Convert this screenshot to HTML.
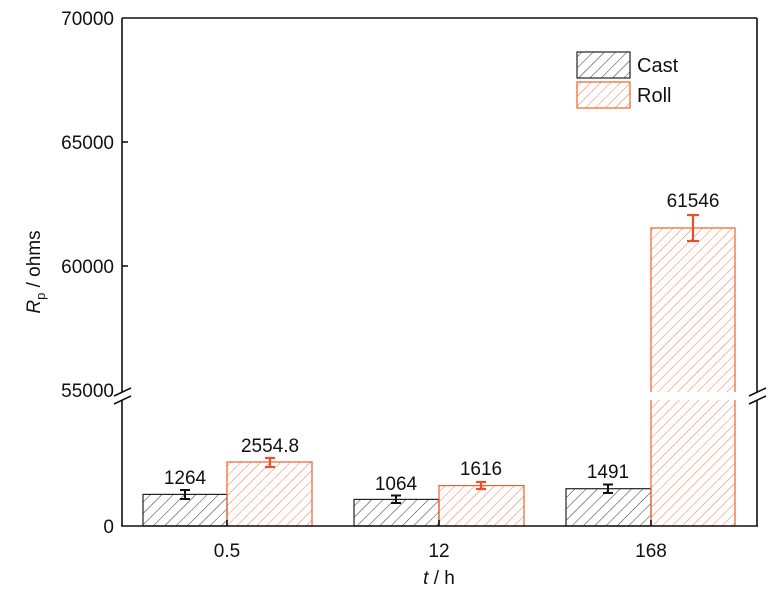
<!DOCTYPE html>
<html><head><meta charset="utf-8"><style>
html,body{margin:0;padding:0;background:#fff;}
svg{display:block;font-family:"Liberation Sans",Arial,sans-serif;}
</style></head><body>
<svg width="768" height="593" viewBox="0 0 768 593" xmlns="http://www.w3.org/2000/svg">
<defs>
<pattern id="hb" patternUnits="userSpaceOnUse" width="8" height="8" patternTransform="rotate(45)">
<line x1="0" y1="0" x2="0" y2="8" stroke="#333" stroke-width="1"/></pattern>
<pattern id="ho" patternUnits="userSpaceOnUse" width="7" height="7" patternTransform="rotate(45)">
<line x1="0" y1="0" x2="0" y2="7" stroke="#f07a50" stroke-width="1"/></pattern>
</defs>
<g stroke-width="1.2">
<rect x="143" y="494.4" width="84" height="31.6" fill="url(#hb)" stroke="#222"/>
<rect x="227" y="462" width="85" height="64" fill="url(#ho)" stroke="#f0602a"/>
<rect x="354" y="499.4" width="85" height="26.6" fill="url(#hb)" stroke="#222"/>
<rect x="439" y="485.6" width="85" height="40.4" fill="url(#ho)" stroke="#f0602a"/>
<rect x="566" y="488.7" width="85" height="37.3" fill="url(#hb)" stroke="#222"/>
<rect x="651" y="228" width="84" height="298" fill="url(#ho)" stroke="#f0602a"/>
</g>
<rect x="645" y="392" width="96" height="8" fill="#fff"/>
<g stroke="#111" stroke-width="2">
<line x1="185" y1="490" x2="185" y2="499"/><line x1="180" y1="490" x2="190" y2="490"/><line x1="180" y1="499" x2="190" y2="499"/>
<line x1="396" y1="495.5" x2="396" y2="503"/><line x1="391" y1="495.5" x2="401" y2="495.5"/><line x1="391" y1="503" x2="401" y2="503"/>
<line x1="608" y1="484.5" x2="608" y2="493"/><line x1="603" y1="484.5" x2="613" y2="484.5"/><line x1="603" y1="493" x2="613" y2="493"/>
</g>
<g stroke="#e8502a" stroke-width="2.2">
<line x1="270" y1="458" x2="270" y2="467"/><line x1="265" y1="458" x2="275" y2="458"/><line x1="265" y1="467" x2="275" y2="467"/>
<line x1="481" y1="482" x2="481" y2="489"/><line x1="476" y1="482" x2="486" y2="482"/><line x1="476" y1="489" x2="486" y2="489"/>
<line x1="693" y1="215" x2="693" y2="241"/><line x1="687" y1="215" x2="699" y2="215"/><line x1="687" y1="241" x2="699" y2="241"/>
</g>
<g font-size="19" text-anchor="middle" fill="#111">
<text x="185" y="484">1264</text>
<text x="270" y="452">2554.8</text>
<text x="396" y="490">1064</text>
<text x="481" y="475">1616</text>
<text x="608" y="478">1491</text>
<text x="693" y="207">61546</text>
</g>
<g stroke="#111" stroke-width="1.6" fill="none">
<line x1="122" y1="18" x2="757" y2="18"/>
<line x1="122" y1="18" x2="122" y2="392"/>
<line x1="122" y1="400" x2="122" y2="526"/>
<line x1="757" y1="18" x2="757" y2="392"/>
<line x1="757" y1="400" x2="757" y2="526"/>
<line x1="121" y1="526" x2="758" y2="526"/>
<line x1="114" y1="396" x2="131" y2="388"/><line x1="114" y1="404" x2="131" y2="396"/>
<line x1="749" y1="396" x2="766" y2="388"/><line x1="749" y1="404" x2="766" y2="396"/>
<line x1="122" y1="142" x2="128" y2="142"/><line x1="122" y1="266" x2="128" y2="266"/>
<line x1="227" y1="526" x2="227" y2="520"/><line x1="439" y1="526" x2="439" y2="520"/><line x1="651" y1="526" x2="651" y2="520"/>
</g>
<g font-size="19" text-anchor="end" fill="#111">
<text x="114" y="25">70000</text>
<text x="114" y="149">65000</text>
<text x="114" y="273">60000</text>
<text x="114" y="397">55000</text>
<text x="114" y="533">0</text>
</g>
<g font-size="19" text-anchor="middle" fill="#111">
<text x="227" y="557">0.5</text>
<text x="439" y="557">12</text>
<text x="651" y="557">168</text>
<text x="439" y="584"><tspan font-style="italic">t</tspan> / h</text>
</g>
<text transform="translate(40,272) rotate(-90)" font-size="19" text-anchor="middle" fill="#111"><tspan font-style="italic">R</tspan><tspan font-size="13" dy="5">p</tspan><tspan dy="-5"> / ohms</tspan></text>
<rect x="577" y="52" width="53" height="26" fill="url(#hb)" stroke="#222" stroke-width="1.2"/>
<rect x="577" y="82" width="53" height="26" fill="url(#ho)" stroke="#f0602a" stroke-width="1.2"/>
<text x="637" y="72" font-size="20" fill="#111">Cast</text>
<text x="637" y="102" font-size="20" fill="#111">Roll</text>
</svg>
</body></html>
